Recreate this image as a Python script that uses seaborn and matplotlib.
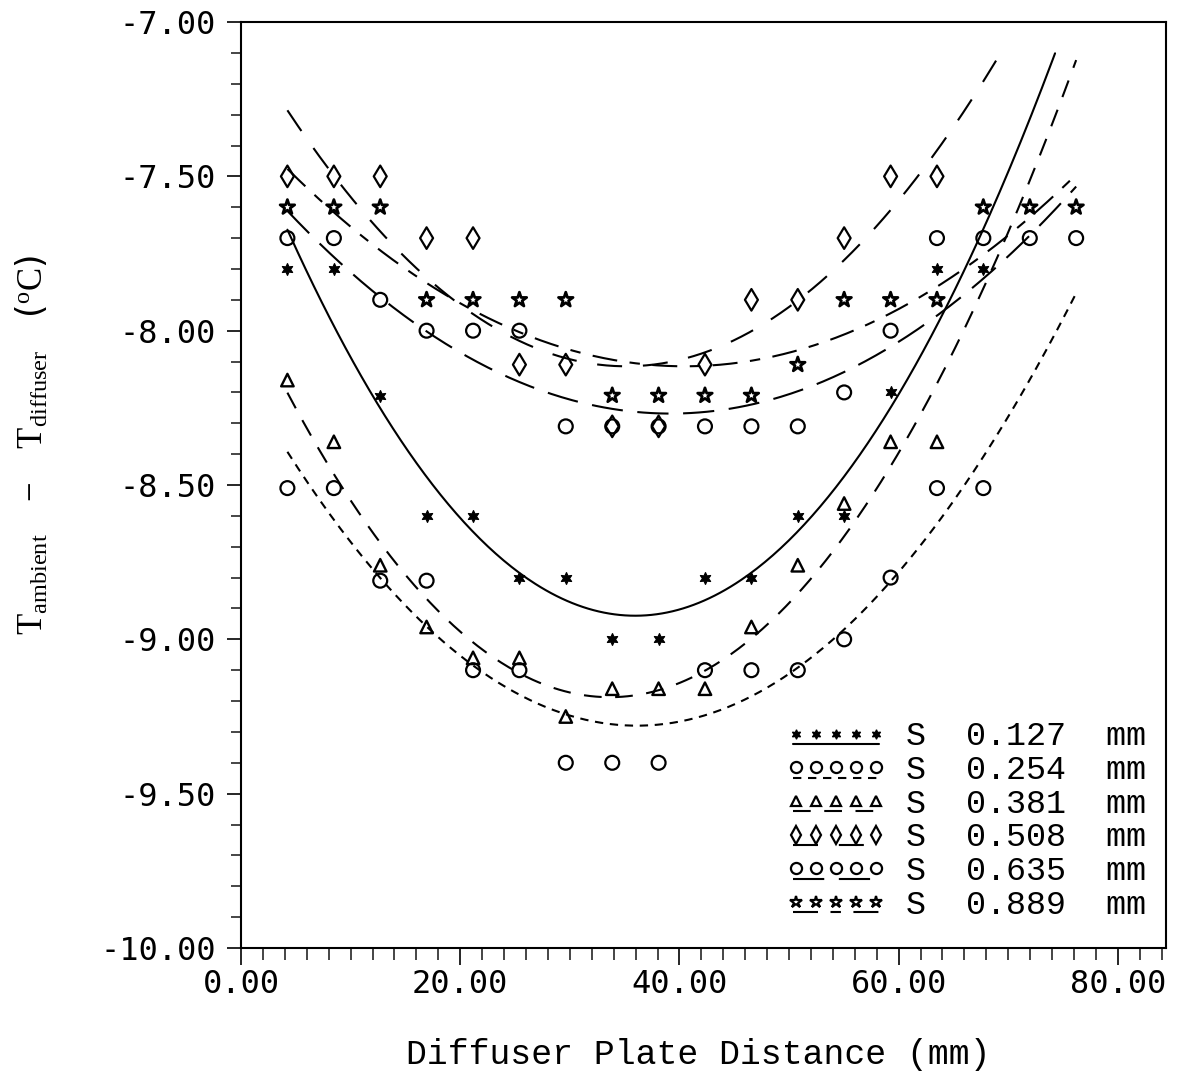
import numpy as np
import pandas as pd
import matplotlib
matplotlib.use("Agg")
import matplotlib.pyplot as plt
from matplotlib.lines import Line2D
from matplotlib.legend_handler import HandlerLine2D
import seaborn as sns

# Measurement stations: every 1/6 inch along the diffuser plate (mm)
x_pos = [4.23, 8.47, 12.70, 16.93, 21.17, 25.40, 29.63, 33.87, 38.10,
         42.33, 46.57, 50.80, 55.03, 59.27, 63.50, 67.73, 71.97, 76.20]

# Temperature difference T_ambient - T_diffuser (deg C) for each gap size S
s_0127 = [-7.80, -7.80, -8.21, -8.60, -8.60, -8.80, -8.80, -9.00, -9.00,
          -8.80, -8.80, -8.60, -8.60, -8.20, -7.80, -7.80]
s_0254 = [-8.51, -8.51, -8.81, -8.81, -9.10, -9.10, -9.40, -9.40, -9.40,
          -9.10, -9.10, -9.10, -9.00, -8.80, -8.51, -8.51]
s_0381 = [-8.16, -8.36, -8.76, -8.96, -9.06, -9.06, -9.25, -9.16, -9.16,
          -9.16, -8.96, -8.76, -8.56, -8.36, -8.36]
s_0508 = [-7.50, -7.50, -7.50, -7.70, -7.70, -8.11, -8.11, -8.31, -8.31,
          -8.11, -7.90, -7.90, -7.70, -7.50, -7.50]
s_0635 = [-7.70, -7.70, -7.90, -8.00, -8.00, -8.00, -8.31, -8.31, -8.31,
          -8.31, -8.31, -8.31, -8.20, -8.00, -7.70, -7.70, -7.70, -7.70]
s_0889 = [-7.60, -7.60, -7.60, -7.90, -7.90, -7.90, -7.90, -8.21, -8.21,
          -8.21, -8.21, -8.11, -7.90, -7.90, -7.90, -7.60, -7.60, -7.60]

labels = ["S  0.127  mm", "S  0.254  mm", "S  0.381  mm",
          "S  0.508  mm", "S  0.635  mm", "S  0.889  mm"]
x_ticks = [0, 20, 40, 60, 80]
y_ticks = [-10.0, -9.5, -9.0, -8.5, -8.0, -7.5, -7.0]

series = [s_0127, s_0254, s_0381, s_0508, s_0635, s_0889]

frames = []
for lab, vals in zip(labels, series):
    frames.append(pd.DataFrame({"x": x_pos[:len(vals)], "dT": vals, "gap": lab}))
df = pd.concat(frames, ignore_index=True)

# Second-order least-squares fit for each gap, over the full traverse
x_fit = np.linspace(x_pos[0], x_pos[-1], 300)
fit_frames = []
for lab in labels:
    sub = df[df["gap"] == lab]
    coef = np.polyfit(sub["x"], sub["dT"], 2)
    yf = np.polyval(coef, x_fit)
    yf = np.where(yf > -7.1, np.nan, yf)
    fit_frames.append(pd.DataFrame({"x": x_fit, "dT": yf, "gap": lab}))
fits = pd.concat(fit_frames, ignore_index=True)

sns.set_theme(style="ticks")
plt.rcParams["mathtext.fontset"] = "custom"
plt.rcParams["mathtext.rm"] = "Liberation Serif"
plt.rcParams["mathtext.it"] = "Liberation Serif"

fig = plt.figure(figsize=(11.88, 10.86), dpi=100)
ax = fig.add_axes([0.2029, 0.1271, 0.7786, 0.8526])

styles = {
    labels[0]: dict(ls="-", marker=(6, 1, 0), filled=True, ms=8.5, mew=0.9),
    labels[1]: dict(ls=(0, (4.0, 3.2)), marker="o", filled=False, ms=10, mew=1.6),
    labels[2]: dict(ls=(0, (8.5, 6.5)), marker="^", filled=False, ms=9, mew=1.7),
    labels[3]: dict(ls=(0, (12, 10)), marker="d", filled=False, ms=11, mew=1.6),
    labels[4]: dict(ls=(0, (15, 7)), marker="o", filled=False, ms=10, mew=1.6),
    labels[5]: dict(ls=(0, (12, 6, 5, 6)), marker="*", filled=False, ms=11, mew=2.0),
}

LW = 1.5
for lab in labels:
    st = styles[lab]
    f = fits[fits["gap"] == lab]
    sns.lineplot(data=f, x="x", y="dT", ax=ax, color="black", lw=LW,
                 sort=False, legend=False, estimator=None)
    ax.lines[-1].set_linestyle(st["ls"])
    sub = df[df["gap"] == lab]
    if st["filled"]:
        sns.scatterplot(data=sub, x="x", y="dT", ax=ax, marker=st["marker"],
                        s=st["ms"] ** 2, color="black", edgecolor="black",
                        linewidth=st["mew"], legend=False, zorder=5)
    else:
        sns.scatterplot(data=sub, x="x", y="dT", ax=ax, marker=st["marker"],
                        s=st["ms"] ** 2, facecolor="none", edgecolor="black",
                        linewidth=st["mew"], legend=False, zorder=5)

ax.set_xlim(0, 84.4)
ax.set_ylim(-10.0, -7.0)
ax.set_xticks(x_ticks)
ax.set_xticks(np.arange(0, 84.5, 2), minor=True)
ax.set_yticks(y_ticks)
ax.set_yticks(np.arange(-10.0, -6.95, 0.1), minor=True)
ax.set_xticklabels([f"{v:.2f}" for v in x_ticks])
ax.set_yticklabels([f"{v:.2f}" for v in y_ticks])

for t in ax.get_xticklabels() + ax.get_yticklabels():
    t.set_fontfamily("DejaVu Sans Mono")
    t.set_fontsize(23)
    t.set_color("black")

ax.tick_params(axis="y", which="major", direction="out", length=10, width=1.4, pad=8)
ax.tick_params(axis="y", which="minor", direction="out", length=7.5, width=1.2)
ax.tick_params(axis="x", which="major", direction="out", length=12, width=1.4, pad=3)
ax.tick_params(axis="x", which="minor", direction="out", length=8.5, width=1.2)
for sp in ax.spines.values():
    sp.set_visible(True)
    sp.set_linewidth(1.5)
    sp.set_color("black")

ax.set_xlabel("Diffuser Plate Distance (mm)", family="Liberation Mono",
              fontsize=25, color="black")
ax.xaxis.set_label_coords(0.494, -0.097)
ax.set_ylabel(r"$\mathrm{T_{ambient}}$   $-$   $\mathrm{T_{diffuser}}$   ($\mathrm{^{o}C}$)",
              fontsize=25, color="black")
ax.yaxis.set_label_coords(-0.207, 0.543)


class UnderlinedHandler(HandlerLine2D):
    """Row of markers with the fit line style drawn underneath them."""

    def create_artists(self, legend, orig_handle, xdescent, ydescent,
                       width, height, fontsize, trans):
        xdata, xdata_marker = self.get_xdata(legend, xdescent, ydescent,
                                             width, height, fontsize)
        yc = (height - ydescent) / 2
        under = Line2D([xdata_marker[0] - 2, xdata_marker[-1] + 2],
                       [yc - 0.45 * height] * 2)
        self.update_prop(under, orig_handle, legend)
        under.set_marker("None")
        marks = Line2D(xdata_marker, np.full(len(xdata_marker), yc))
        self.update_prop(marks, orig_handle, legend)
        marks.set_linestyle("None")
        under.set_transform(trans)
        marks.set_transform(trans)
        return [under, marks]


handles = []
for lab in labels:
    st = styles[lab]
    h = Line2D([], [], color="black", lw=LW, linestyle=st["ls"],
               marker=st["marker"], markersize=st["ms"] * 0.8,
               markerfacecolor="black" if st["filled"] else "none",
               markeredgecolor="black", markeredgewidth=min(st["mew"], 1.6))
    handles.append(h)

leg = ax.legend(handles, labels, loc="lower right", bbox_to_anchor=(1.0, 0.008),
                frameon=False, numpoints=5, handlelength=3.0,
                handletextpad=0.6, labelspacing=0.08, borderpad=0.1,
                prop=dict(family="Liberation Mono", size=24),
                handler_map={Line2D: UnderlinedHandler()})
for t in leg.get_texts():
    t.set_color("black")

fig.savefig("out.png", dpi=100, facecolor="white")
